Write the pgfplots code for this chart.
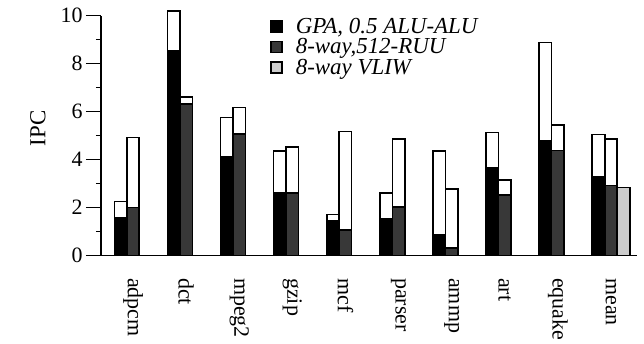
\documentclass[border=0pt]{standalone}
\usepackage{fontspec}
\setmainfont{Liberation Serif}
\usepackage{pgfplots}
\pgfplotsset{compat=1.18}
\definecolor{ruu}{gray}{0.22}
\definecolor{vliw}{gray}{0.80}
\pgfplotsset{sq legend/.style={legend image code/.code={\draw[##1] (0bp,-5.5bp) rectangle (11bp,5.5bp); \path[draw=none,fill=none] (0bp,0bp) -- (23bp,0bp);}}}
\begin{document}
\begin{tikzpicture}
\begin{axis}[
  name=ax,
  scale only axis,
  width=536bp, height=240bp,
  xmin=-0.603, xmax=9.49, ymin=0, ymax=10,
  clip=false,
  axis x line*=bottom, axis y line*=left,
  axis line style={line width=1.6bp, -},
  ytick={0,2,...,10}, minor ytick={1,3,...,9},
  tick align=outside,
  major tick length=15bp, minor tick length=5bp,
  every tick/.style={black, line width=1.5bp},
  xtick={0,...,9},
  xticklabels={adpcm,dct,mpeg2,gzip,mcf,parser,ammp,art,equake,mean},
  xtick style={draw=none},
  xticklabel style={rotate=-90, anchor=west, font=\fontsize{22}{22}\selectfont},
  xticklabel shift=4bp,
  yticklabel style={font=\fontsize{22}{22}\selectfont},
  /pgf/number format/assume math mode=true,
  ylabel={IPC},
  ylabel style={at={(axis description cs:-0.1175,0.53)}, anchor=center, font=\fontsize{23}{23}\selectfont},
  legend style={at={(axis description cs:0.315,1.0)}, anchor=north west, draw=none, fill=none,
    font=\fontsize{23}{22}\selectfont\itshape, row sep=0bp, inner sep=0pt},
  legend cell align=left,
]
% totals (white tops)
\addplot[ybar, bar width=0.235, bar shift=0, fill=white, draw=black, line width=1.6bp, forget plot]
  coordinates {(-0.235,2.25) (0.765,10.2) (1.765,5.75) (2.765,4.36) (3.765,1.72) (4.765,2.6) (5.765,4.36) (6.765,5.13) (7.765,8.89) (8.765,5.05)};
\addplot[ybar, bar width=0.235, bar shift=0, fill=white, draw=black, line width=1.6bp, forget plot]
  coordinates {(0,4.92) (1,6.61) (2,6.18) (3,4.54) (4,5.17) (5,4.85) (6,2.77) (7,3.15) (8,5.45) (9,4.86)};
% base parts
\addplot[ybar, bar width=0.235, bar shift=0, fill=black, draw=black, line width=1.6bp, sq legend]
  coordinates {(-0.235,1.56) (0.765,8.54) (1.765,4.1) (2.765,2.64) (3.765,1.46) (4.765,1.52) (5.765,0.86) (6.765,3.67) (7.765,4.78) (8.765,3.27)};
\addplot[ybar, bar width=0.235, bar shift=0, fill=ruu, draw=black, line width=1.6bp, sq legend]
  coordinates {(0,2.0) (1,6.31) (2,5.07) (3,2.62) (4,1.07) (5,2.04) (6,0.33) (7,2.53) (8,4.38) (9,2.92)};
\addplot[ybar, bar width=0.235, bar shift=0, fill=vliw, draw=black, line width=1.6bp, sq legend]
  coordinates {(9.235,2.84)};
\legend{GPA{,} 0.5 ALU-ALU, {8-way,512-RUU}, 8-way VLIW}
\end{axis}
\path ([shift={(-101bp,-83.3bp)}]ax.south west) rectangle ([shift={(543bp,255.7bp)}]ax.south west);
\end{tikzpicture}
\end{document}
